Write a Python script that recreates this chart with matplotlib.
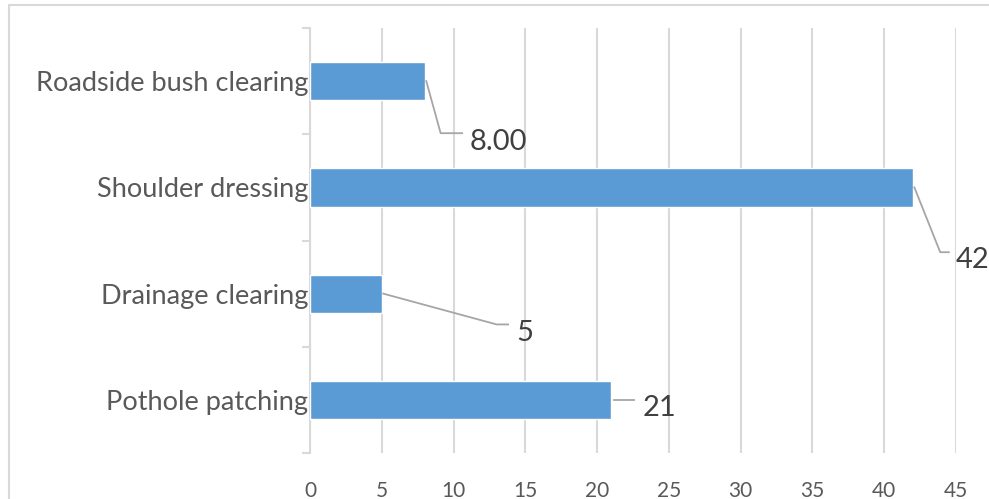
"""Horizontal bar chart of road maintenance activities."""

import matplotlib.pyplot as plt
from matplotlib.patches import Rectangle

categories = ["Pothole patching", "Drainage clearing", "Shoulder dressing", "Roadside bush clearing"]
values = [21, 5, 42, 8]
value_labels = ["21", "5", "42", "8.00"]
x_ticks = [0, 5, 10, 15, 20, 25, 30, 35, 40, 45]

# leader lines for the data labels: (elbow x, elbow y, end x) and label position
leaders = [
    (None, None, 22.6),
    (13.0, 0.71, 13.8),
    (43.9, 1.39, 44.5),
    (9.1, 2.51, 10.6),
]
label_pos = [(23.2, -0.08), (14.4, 0.63), (45.0, 1.32), (11.1, 2.43)]

BAR_COLOR = "#5B9BD5"
GRID_COLOR = "#D9D9D9"
TEXT_COLOR = "#595959"
LABEL_COLOR = "#404040"
LEADER_COLOR = "#A6A6A6"

plt.rcParams["font.family"] = ["Lato", "DejaVu Sans"]

fig = plt.figure(figsize=(9.89, 4.99), dpi=100)
fig.patches.append(Rectangle((9 / 989, -0.1), 1.1, 1.1 - 5 / 499,
                             transform=fig.transFigure, fill=False,
                             edgecolor=GRID_COLOR, linewidth=1.5))
ax = fig.add_axes([310 / 989, 1 - 453 / 499, (956 - 310) / 989, (453 - 28) / 499])

y = range(len(categories))
ax.barh(y, values, height=0.36, color=BAR_COLOR, edgecolor="white", linewidth=1, zorder=3)

for i, v in enumerate(values):
    ex, ey, endx = leaders[i]
    if ex is None:
        ax.plot([v + 0.2, endx], [i, i], color=LEADER_COLOR, lw=1.3, zorder=4, clip_on=False)
    else:
        ax.plot([v + 0.1, ex, endx], [i, ey, ey], color=LEADER_COLOR, lw=1.3, zorder=4, clip_on=False)
    lx, ly = label_pos[i]
    ax.text(lx, ly, value_labels[i], fontsize=21, color=LABEL_COLOR, ha="left", va="center",
            clip_on=False)

ax.set_xlim(0, 45)
ax.set_ylim(-0.5, 3.5)
ax.set_xticks(x_ticks)
ax.set_yticks(list(y))
ax.set_yticklabels(categories)
ax.set_yticks([-0.5, 0.5, 1.5, 2.5, 3.5], minor=True)

ax.grid(axis="x", color=GRID_COLOR, linewidth=1.5, zorder=0)
for side in ["top", "right", "bottom"]:
    ax.spines[side].set_visible(False)
ax.spines["left"].set_color(GRID_COLOR)
ax.spines["left"].set_linewidth(1.5)

ax.tick_params(axis="x", length=0, pad=20, labelsize=15, labelcolor=TEXT_COLOR)
ax.tick_params(axis="y", which="major", length=0, pad=1.5, labelsize=19.5, labelcolor=TEXT_COLOR)
ax.tick_params(axis="y", which="minor", length=6, width=1.5, color=GRID_COLOR)

fig.savefig("out.png", dpi=100)
